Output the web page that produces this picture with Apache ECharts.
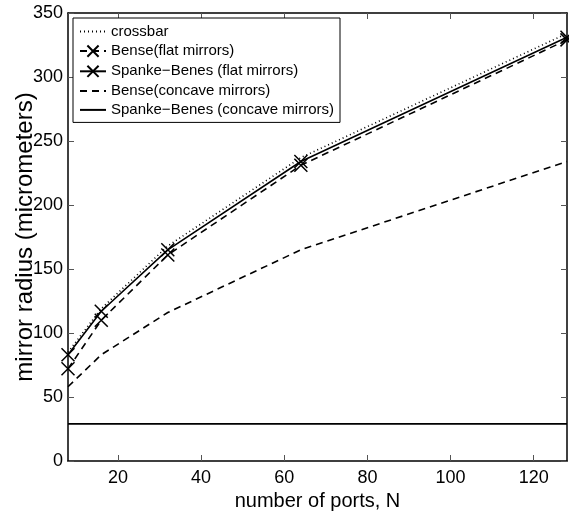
<!DOCTYPE html>
<html lang="en">
<head>
    <meta charset="UTF-8">
    <title>mirror radius vs number of ports</title>
    <script src="https://cdn.jsdelivr.net/npm/echarts@6/dist/echarts.min.js"></script>
    <style>
        html, body { margin: 0; padding: 0; background: #fff; }
        #main { width: 569px; height: 512px; }
    </style>
</head>
<body>
<div id="main"></div>
<script>
    // data
    var ports = [8, 16, 32, 64, 128];
    var crossbar = [85, 119, 168, 237, 334];
    var benseFlat = [72, 110, 161, 231, 329];
    var spankeFlat = [83, 117, 165, 234, 331];
    var benseConcave = [58, 83, 116, 165, 234];
    var spankeConcave = [29, 29, 29, 29, 29];
    var xTicks = [20, 40, 60, 80, 100, 120];

    var font = 'Liberation Sans';
    var crossMark = 'path://M0,0L10,10M10,0L0,10';

    function pairs(ys) {
        return ports.map(function (n, i) { return [n, ys[i]]; });
    }

    function line(name, ys, dash, marked) {
        return {
            name: name,
            type: 'line',
            xAxisIndex: 0,
            yAxisIndex: 0,
            data: pairs(ys),
            symbol: marked ? crossMark : 'none',
            symbolSize: 13,
            showSymbol: marked,
            // no marker -> keep the legend's fallback circle invisible
            itemStyle: marked
                ? { color: 'none', borderColor: '#000', borderWidth: 1.5 }
                : { color: 'none', borderColor: 'rgba(0,0,0,0)', borderWidth: 0 },
            lineStyle: { color: '#000', width: 1.6, type: dash },
            emphasis: { disabled: true }
        };
    }

    var xBase = {
        type: 'value', min: 8, max: 128,
        axisLine: { show: true, onZero: false, lineStyle: { color: '#000', width: 1.5 } },
        axisTick: { show: true, inside: true, length: 6, customValues: xTicks, lineStyle: { color: '#555' } },
        splitLine: { show: false }
    };
    var yBase = {
        type: 'value', min: 0, max: 350, interval: 50,
        axisLine: { show: true, onZero: false, lineStyle: { color: '#000', width: 1.5 } },
        axisTick: { show: true, inside: true, length: 6, lineStyle: { color: '#555' } },
        splitLine: { show: false }
    };

    var myChart = echarts.init(document.getElementById('main'));
    myChart.setOption({
        animation: false,
        backgroundColor: '#fff',
        grid: { left: 68, right: 2, top: 13, bottom: 51, containLabel: false, outerBoundsMode: 'none' },
        legend: {
            orient: 'vertical',
            left: 73,
            top: 18,
            padding: [6, 6, 5, 6],
            itemGap: 4,
            itemWidth: 26,
            itemHeight: 14,
            backgroundColor: '#fff',
            borderColor: '#000',
            borderWidth: 1,
            borderRadius: 0,
            textStyle: { fontFamily: font, fontSize: 15, color: '#000' },
            data: ['crossbar', 'Bense(flat mirrors)', 'Spanke\u2212Benes (flat mirrors)',
                'Bense(concave mirrors)', 'Spanke\u2212Benes (concave mirrors)']
        },
        xAxis: [
            Object.assign({}, xBase, {
                position: 'bottom',
                name: 'number of ports, N',
                nameLocation: 'middle',
                nameGap: 30,
                nameMoveOverlap: false,
                nameTextStyle: { fontFamily: font, fontSize: 20, color: '#000' },
                axisLabel: { show: true, customValues: xTicks, margin: 8, fontFamily: font, fontSize: 18, color: '#000' }
            }),
            Object.assign({}, xBase, { position: 'top', axisLabel: { show: false } })
        ],
        yAxis: [
            Object.assign({}, yBase, {
                position: 'left',
                name: 'mirror radius (micrometers)',
                nameLocation: 'middle',
                nameGap: 31,
                nameMoveOverlap: false,
                nameTextStyle: { fontFamily: font, fontSize: 24, color: '#000' },
                axisLabel: { show: true, margin: 5, fontFamily: font, fontSize: 18, color: '#000' }
            }),
            Object.assign({}, yBase, { position: 'right', axisLabel: { show: false } })
        ],
        series: [
            line('crossbar', crossbar, [1, 3], false),
            line('Bense(flat mirrors)', benseFlat, [7, 5], true),
            line('Spanke\u2212Benes (flat mirrors)', spankeFlat, 'solid', true),
            line('Bense(concave mirrors)', benseConcave, [7, 5], false),
            line('Spanke\u2212Benes (concave mirrors)', spankeConcave, 'solid', false)
        ]
    });
</script>
</body>
</html>
